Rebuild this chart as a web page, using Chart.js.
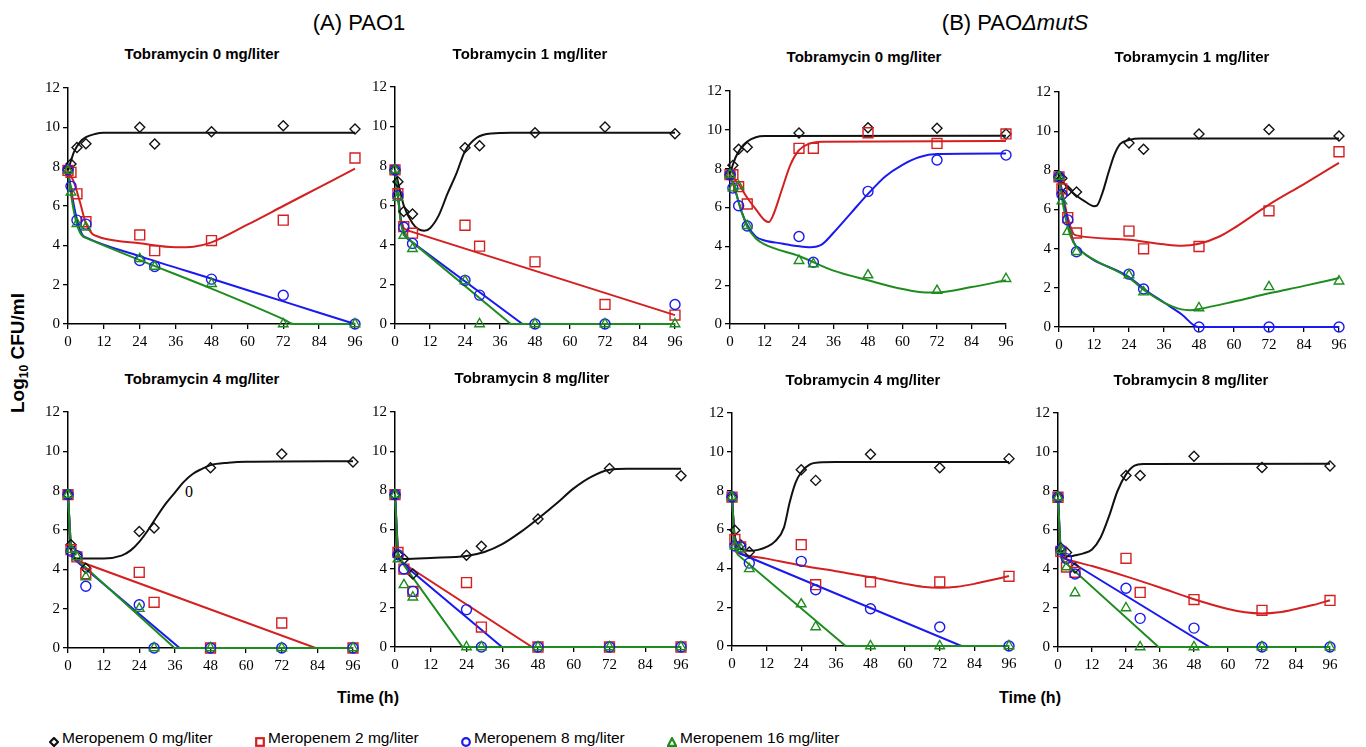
<!DOCTYPE html>
<html>
<head>
<meta charset="utf-8">
<script src="https://cdn.jsdelivr.net/npm/chart.js@4.4.1/dist/chart.umd.min.js"></script>
<style>
  body { margin: 0; background: #fff; width: 1366px; height: 747px; position: relative; overflow: hidden;
         font-family: "Liberation Sans", Arial, sans-serif; color: #000; }
  canvas { position: absolute; }
  .lbl { position: absolute; transform: translate(-50%, -50%); white-space: nowrap; }
  .ptitle { font-weight: bold; font-size: 15px; }
  .grp { font-size: 22px; }
  .axt { font-weight: bold; font-size: 16px; }
  .leg { position: absolute; top: 738px; transform: translateY(-50%); font-size: 15.5px; white-space: nowrap; }
  .legm { position: absolute; top: 733px; }
</style>
</head>
<body>
<div class="lbl grp" style="left:359px;top:23px">(A) PAO1</div>
<div class="lbl grp" style="left:1015px;top:23px">(B) PAO<i>&Delta;mutS</i></div>
<div class="lbl axt" style="left:19px;top:353px;transform:translate(-50%,-50%) rotate(-90deg);font-size:19px">Log<sub style="font-size:12px">10</sub> CFU/ml</div>
<div class="lbl axt" style="left:368px;top:698px">Time (h)</div>
<div class="lbl axt" style="left:1030px;top:698px">Time (h)</div>
<div class="lbl" style="left:189px;top:492px;font-family:'Liberation Serif',serif;font-size:16px">0</div>

<script>
// sampling times (h)
const timesH = [0, 1, 3, 6, 24, 29, 48, 72, 96];
const meropenemLabels = ['Meropenem 0 mg/liter', 'Meropenem 2 mg/liter', 'Meropenem 8 mg/liter', 'Meropenem 16 mg/liter'];
const tobramycinLabels = ['Tobramycin 0 mg/liter', 'Tobramycin 1 mg/liter', 'Tobramycin 4 mg/liter', 'Tobramycin 8 mg/liter'];
const xTickLabels = [0, 12, 24, 36, 48, 60, 72, 84, 96];
const yTickLabels = [0, 2, 4, 6, 8, 10, 12];

// observed log10 CFU/ml, rows = meropenem 0, 2, 8, 16
const pao1Tob0Obs = [
  [7.84, 8.13, 8.98, 9.17, 10.0, 9.15, 9.78, 10.08, 9.92],
  [7.81, 7.71, 6.62, 5.2, 4.53, 3.73, 4.24, 5.28, 8.44],
  [7.84, 7.0, 5.28, 5.08, 3.23, 2.92, 2.28, 1.46, 0],
  [7.8, 6.7, 5.1, 4.92, 3.31, 2.92, 2.05, 0, 0]
];
const pao1Tob1Obs = [
  [7.8, 7.2, 5.7, 5.57, 8.93, 9.03, 9.68, 9.97, 9.63],
  [7.8, 6.6, 4.93, 4.6, 5.0, 3.94, 3.15, 0.99, 0.45],
  [7.8, 6.5, 4.9, 4.08, 2.21, 1.46, 0, 0, 0.99],
  [7.8, 6.4, 4.48, 3.81, 2.18, 0, 0, 0, 0]
];
const pao1Tob4Obs = [
  [7.8, 5.25, 4.69, 4.05, 5.92, 6.1, 9.17, 9.86, 9.46],
  [7.8, 5.0, 4.63, 3.78, 3.85, 2.32, 0, 1.27, 0],
  [7.8, 4.92, 4.69, 3.14, 2.2, 0, 0, 0, 0],
  [7.8, 5.0, 4.63, 3.61, 2.0, 0, 0, 0, 0]
];
const pao1Tob8Obs = [
  [7.78, 4.71, 4.49, 3.73, 4.68, 5.14, 6.54, 9.11, 8.75],
  [7.78, 4.83, 3.98, 2.84, 3.29, 1.02, 0, 0, 0],
  [7.78, 4.71, 3.98, 2.84, 1.91, 0, 0, 0, 0],
  [7.78, 4.49, 3.17, 2.54, 0, 0, 0, 0, 0]
];
const mutsTob0Obs = [
  [7.69, 8.17, 9.0, 9.1, 9.84, null, 10.11, 10.08, 9.79],
  [7.69, 7.69, 7.07, 6.18, 9.05, 9.05, 9.85, 9.3, 9.79],
  [7.69, 7.0, 6.09, 5.05, 4.51, 3.18, 6.83, 8.45, 8.7],
  [7.69, 7.0, 7.1, 5.06, 3.26, 3.09, 2.52, 1.72, 2.33]
];
const mutsTob1Obs = [
  [7.67, 7.59, 6.96, 6.89, 9.4, 9.08, 9.85, 10.08, 9.75],
  [7.67, 7.05, 5.59, 4.8, 4.9, 3.99, 4.11, 5.93, 8.95],
  [7.67, 6.77, 5.47, 3.84, 2.7, 1.94, 0, 0, 0],
  [7.67, 6.43, 4.87, 3.84, 2.65, 1.78, 0.97, 2.05, 2.34]
];
const mutsTob4Obs = [
  [7.67, 5.96, 5.22, 4.84, 9.08, 8.53, 9.87, 9.18, 9.65],
  [7.67, 5.49, 5.1, null, 5.22, 3.16, 3.3, 3.3, 3.59],
  [7.67, 5.15, 5.1, 4.27, 4.36, 2.9, 1.92, 0.98, 0],
  [7.67, 5.15, 5.01, 3.97, 2.16, 0.98, 0, 0, 0]
];
const mutsTob8Obs = [
  [7.68, 5.08, 4.85, 4.05, 8.8, 8.8, 9.78, 9.21, 9.28],
  [7.68, 4.9, 4.1, 3.83, 4.55, 2.8, 2.43, 1.88, 2.39],
  [7.68, 4.99, 4.53, 3.74, 3.01, 1.47, 0.97, 0, 0],
  [7.68, 4.99, 4.1, 2.77, 2.0, 0, 0, 0, 0]
];

// model fits, [time, log10 CFU/ml]
const pao1Tob0Fit = [
  [[0,7.8],[1,8.3],[2,8.75],[4,9.25],[6,9.5],[9,9.66],[12,9.72],[96,9.72]],
  [[0,7.8],[2,7.2],[4,6.2],[6,5.1],[8,4.6],[10,4.45],[12,4.35],[24,4.1],[36,3.9],[42,3.93],[48,4.15],[60,5.05],[72,6.0],[84,6.95],[96,7.9]],
  [[0,7.8],[1,6.9],[2,6.0],[3,5.3],[4,4.8],[5,4.5],[6,4.4],[24,3.45],[48,2.3],[72,1.15],[96,0]],
  [[0,7.8],[1,6.6],[2,5.7],[3,5.05],[4,4.65],[5,4.45],[6,4.38],[24,3.25],[48,1.8],[72,0.25],[75.5,0],[96,0]]
];
const pao1Tob1Fit = [
  [[0,7.8],[1,7.2],[3,6.0],[6,5.1],[8,4.8],[10,4.72],[12,4.85],[15,5.5],[18,6.6],[21,7.6],[24,8.75],[28,9.43],[33,9.65],[40,9.68],[96,9.68]],
  [[0,7.8],[1,6.5],[2,5.3],[3,4.85],[4,4.75],[96,0.45]],
  [[0,7.8],[1,6.5],[2,5.2],[3,4.6],[4,4.35],[43.7,0],[96,0]],
  [[0,7.8],[1,6.4],[2,5.1],[3,4.5],[39.7,0],[96,0]]
];
const pao1Tob4Fit = [
  [[0,7.8],[0.7,5.5],[1.5,4.7],[3,4.55],[12,4.55],[18,4.7],[21,4.95],[24,5.4],[27,6.0],[30,6.7],[33,7.35],[36,7.9],[39,8.45],[42,8.85],[45,9.1],[48,9.3],[54,9.42],[60,9.47],[96,9.5]],
  [[0,7.8],[1,5.0],[2,4.55],[3,4.45],[83.4,0],[96,0]],
  [[0,7.8],[1,5.0],[2,4.55],[3,4.4],[37.6,0],[96,0]],
  [[0,7.8],[1,5.0],[2,4.6],[3,4.5],[35.9,0],[96,0]]
];
const pao1Tob8Fit = [
  [[0,7.8],[0.7,5.0],[1.5,4.55],[3,4.5],[12,4.55],[24,4.65],[30,4.85],[36,5.25],[42,5.85],[48,6.55],[54,7.3],[60,8.1],[66,8.7],[72,9.05],[78,9.1],[96,9.1]],
  [[0,7.8],[1,4.8],[2,4.4],[3,4.25],[46,0],[96,0]],
  [[0,7.8],[1,4.8],[2,4.4],[3,4.2],[35.9,0],[96,0]],
  [[0,7.8],[1,4.6],[22.7,0],[96,0]]
];
const mutsTob0Fit = [
  [[0,7.75],[1,8.2],[2,8.6],[4,9.1],[6,9.4],[9,9.62],[12,9.68],[96,9.7]],
  [[0,7.7],[3,7.2],[6,6.5],[9,5.9],[12,5.35],[13.5,5.25],[15,5.6],[18,6.9],[21,8.2],[24,8.95],[27,9.25],[32,9.38],[96,9.42]],
  [[0,7.7],[2,6.8],[4,5.8],[6,5.1],[9,4.5],[12,4.3],[18,4.15],[24,4.0],[28,3.95],[32,4.1],[36,4.7],[42,5.7],[48,6.7],[54,7.6],[60,8.2],[66,8.6],[72,8.75],[96,8.78]],
  [[0,7.7],[2,6.8],[4,5.8],[6,5.0],[9,4.4],[12,4.1],[24,3.5],[36,2.75],[48,2.25],[60,1.8],[68,1.62],[72,1.62],[84,1.9],[96,2.25]]
];
const mutsTob1Fit = [
  [[0,7.7],[3,7.1],[6,6.7],[9,6.4],[12,6.17],[13,6.2],[15,6.9],[17,7.9],[19,8.8],[21,9.35],[24,9.55],[28,9.62],[96,9.62]],
  [[0,7.7],[1,7.0],[3,5.6],[5,4.75],[6,4.68],[24,4.45],[36,4.22],[42,4.15],[48,4.25],[55,4.62],[60,5.05],[66,5.65],[72,6.25],[84,7.3],[96,8.38]],
  [[0,7.7],[1,6.8],[3,5.4],[5,4.35],[7,3.95],[24,2.55],[30,1.85],[36,1.25],[42,0.65],[47.7,0],[96,0]],
  [[0,7.7],[1,6.6],[3,5.1],[5,4.3],[7,3.95],[24,2.5],[30,1.8],[36,1.25],[42,0.9],[45,0.86],[48,0.92],[60,1.3],[72,1.72],[84,2.1],[96,2.5]]
];
const mutsTob4Fit = [
  [[0,7.7],[0.7,6.0],[2,5.2],[4,4.95],[6,4.9],[9,4.95],[12,5.1],[15,5.4],[18,6.1],[20,7.4],[22,8.4],[24,8.95],[27,9.35],[30,9.45],[36,9.47],[96,9.47]],
  [[0,7.7],[1,5.4],[2,4.85],[3,4.75],[12,4.5],[24,4.15],[36,3.85],[48,3.55],[60,3.2],[66,3.05],[72,3.0],[78,3.05],[84,3.2],[90,3.4],[96,3.6]],
  [[0,7.7],[1,5.1],[2,4.85],[3,4.75],[79.5,0],[96,0]],
  [[0,7.7],[1,5.0],[2,4.7],[39.4,0],[96,0]]
];
const mutsTob8Fit = [
  [[0,7.7],[0.7,5.0],[2,4.7],[4,4.65],[6,4.7],[9,4.8],[12,5.0],[15,5.6],[18,6.7],[21,8.0],[24,8.85],[27,9.3],[30,9.38],[96,9.4]],
  [[0,7.7],[1,4.8],[2,4.55],[3,4.5],[12,4.15],[24,3.62],[36,3.05],[48,2.45],[60,1.95],[66,1.78],[72,1.72],[78,1.78],[84,1.95],[90,2.15],[96,2.4]],
  [[0,7.7],[1,4.8],[2,4.6],[3,4.5],[53.5,0],[96,0]],
  [[0,7.7],[1,4.6],[2,4.4],[35.5,0],[96,0]]
];

const colors = ['#111111', '#d42020', '#1a1af0', '#1e8c1e'];
const markers = ['rectRot', 'rect', 'circle', 'triangle'];
const markerSize = [5, 7, 5, 5.5];

// plot area boxes in page pixels: left, top, right, bottom
// straight: which fits are drawn as straight segments instead of smooth curves
const panels = [
  { title: tobramycinLabels[0], obs: pao1Tob0Obs, fit: pao1Tob0Fit, box: [68, 88, 355, 324], tx: 202, ty: 53, straight: [0, 0, 0, 0] },
  { title: tobramycinLabels[1], obs: pao1Tob1Obs, fit: pao1Tob1Fit, box: [395, 87, 675, 324], tx: 530, ty: 53, straight: [0, 1, 1, 1] },
  { title: tobramycinLabels[0], obs: mutsTob0Obs, fit: mutsTob0Fit, box: [730, 91, 1006, 324], tx: 864, ty: 56, straight: [0, 0, 0, 0] },
  { title: tobramycinLabels[1], obs: mutsTob1Obs, fit: mutsTob1Fit, box: [1059, 92, 1339, 327], tx: 1192, ty: 56, straight: [0, 0, 0, 0] },
  { title: tobramycinLabels[2], obs: pao1Tob4Obs, fit: pao1Tob4Fit, box: [68, 412, 353, 648], tx: 202, ty: 378, straight: [0, 1, 1, 1] },
  { title: tobramycinLabels[3], obs: pao1Tob8Obs, fit: pao1Tob8Fit, box: [395, 412, 681, 647], tx: 532, ty: 377, straight: [0, 1, 1, 1] },
  { title: tobramycinLabels[2], obs: mutsTob4Obs, fit: mutsTob4Fit, box: [732, 413, 1009, 646], tx: 863, ty: 379, straight: [0, 0, 1, 1] },
  { title: tobramycinLabels[3], obs: mutsTob8Obs, fit: mutsTob8Fit, box: [1058, 413, 1330, 647], tx: 1191, ty: 379, straight: [0, 0, 1, 1] }
];

const padL = 40, padT = 12, padR = 14, padB = 30;

function axisOpts(min, max, tickVals, isX) {
  return {
    type: 'linear',
    min: min,
    max: max,
    afterBuildTicks: s => { s.ticks = tickVals.map(v => ({ value: v })); },
    afterFit: s => { if (isX) s.height = padB; else s.width = padL; },
    ticks: {
      color: '#000',
      padding: isX ? 4 : 3,
      autoSkip: false,
      maxRotation: 0,
      font: { family: "'Liberation Serif', 'Times New Roman', serif", size: 15 }
    },
    grid: { drawOnChartArea: false, drawTicks: true, tickLength: 5, color: '#000', lineWidth: 1.3 },
    border: { display: true, color: '#000', width: 1.5 }
  };
}

panels.forEach(p => {
  let cv = document.createElement('canvas');
  let b = p.box;
  cv.width = b[2] - b[0] + padL + padR;
  cv.height = b[3] - b[1] + padT + padB;
  cv.style.left = (b[0] - padL) + 'px';
  cv.style.top = (b[1] - padT) + 'px';
  document.body.appendChild(cv);

  let t = document.createElement('div');
  t.className = 'lbl ptitle';
  t.textContent = p.title;
  t.style.left = p.tx + 'px';
  t.style.top = p.ty + 'px';
  document.body.appendChild(t);

  let datasets = [];
  p.fit.forEach((curve, i) => {
    datasets.push({
      label: meropenemLabels[i] + ' fit',
      data: curve.map(d => ({ x: d[0], y: d[1] })),
      showLine: true,
      borderColor: colors[i],
      borderWidth: 2,
      pointRadius: 0,
      cubicInterpolationMode: p.straight[i] ? 'default' : 'monotone',
      tension: 0,
      clip: false,
      order: 14 - i
    });
  });
  p.obs.forEach((vals, i) => {
    datasets.push({
      label: meropenemLabels[i],
      data: timesH.map((tm, k) => ({ x: tm, y: vals[k] })).filter(d => d.y !== null),
      showLine: false,
      pointStyle: markers[i],
      pointRadius: markerSize[i],
      pointBorderColor: colors[i],
      pointBackgroundColor: 'rgba(0,0,0,0)',
      pointBorderWidth: 1.4,
      clip: false,
      order: 4 - i
    });
  });

  new Chart(cv, {
    type: 'scatter',
    data: { datasets: datasets },
    options: {
      responsive: false,
      animation: false,
      devicePixelRatio: 1,
      layout: { padding: { left: 0, top: padT, right: padR, bottom: 0 } },
      plugins: { legend: { display: false }, tooltip: { enabled: false } },
      scales: {
        x: axisOpts(0, 96, xTickLabels, true),
        y: axisOpts(0, 12, yTickLabels, false)
      }
    }
  });
});

// legend along the bottom
const legendX = [54, 260, 466, 672];
const legendShapes = [
  '<polygon points="5,1 9,5 5,9 1,5" />',
  '<rect x="1.2" y="1.2" width="7.6" height="7.6" />',
  '<circle cx="5" cy="5" r="3.8" />',
  '<polygon points="5,1.2 9,8.8 1,8.8" />'
];
meropenemLabels.forEach((name, i) => {
  let m = document.createElement('div');
  m.className = 'legm';
  m.style.left = (legendX[i] - 5) + 'px';
  m.innerHTML = '<svg width="10" height="10" viewBox="0 0 10 10" fill="none" stroke="' + colors[i] +
    '" stroke-width="2.2">' + legendShapes[i] + '</svg>';
  document.body.appendChild(m);
  let s = document.createElement('div');
  s.className = 'leg';
  s.style.left = (legendX[i] + 8) + 'px';
  s.textContent = name;
  document.body.appendChild(s);
});
</script>
</body>
</html>
